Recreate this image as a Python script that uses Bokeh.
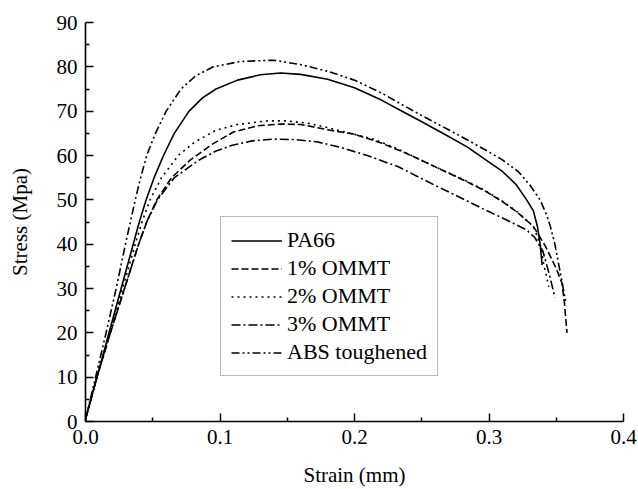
from bokeh.plotting import figure
from bokeh.models import Range1d, Legend, LegendItem, NumeralTickFormatter, FixedTicker
from bokeh.embed import file_html
from bokeh.resources import INLINE

FONT = "Liberation Serif"

# ---- data ----
pa66_strain = [0, 0.0085, 0.0175, 0.0265, 0.031, 0.0355, 0.040, 0.0451, 0.051, 0.058, 0.066, 0.077, 0.087, 0.097, 0.113, 0.130, 0.145, 0.16, 0.18, 0.2, 0.22, 0.234, 0.25, 0.27, 0.284, 0.3, 0.31, 0.32, 0.328, 0.333, 0.336, 0.338, 0.3395]
pa66_stress = [0.5, 10, 20, 30, 35, 40, 45, 50, 55, 60, 65, 70, 73, 75, 77, 78.2, 78.6, 78.3, 77.2, 75.3, 72.5, 70.2, 67.6, 64.3, 61.9, 58.5, 56.4, 53.5, 50.0, 47.5, 44.0, 40.0, 35.3]

ommt1_strain = [0, 0.0085, 0.0185, 0.029, 0.0395, 0.0455, 0.053, 0.064, 0.078, 0.094, 0.11, 0.128, 0.145, 0.16, 0.182, 0.2, 0.22, 0.24, 0.259, 0.28, 0.296, 0.31, 0.321, 0.333, 0.338, 0.342, 0.3457, 0.35, 0.3543, 0.356, 0.358]
ommt1_stress = [0.5, 10, 20, 30, 40, 45, 50, 55, 59, 62.5, 65.3, 66.7, 67.1, 67.0, 65.7, 64.8, 62.8, 60.3, 57.6, 54.6, 52.2, 49.6, 47.2, 44.0, 41.5, 39.5, 37.2, 34.5, 31.2, 27.0, 20.0]

ommt2_strain = [0, 0.0085, 0.018, 0.0275, 0.037, 0.042, 0.048, 0.0565, 0.069, 0.081, 0.097, 0.113, 0.135, 0.15, 0.165, 0.18, 0.197, 0.215, 0.232, 0.259, 0.28, 0.296, 0.31, 0.321, 0.333, 0.338, 0.341, 0.3445]
ommt2_stress = [0.5, 10, 20, 30, 40, 45, 50, 55, 60, 63, 65.7, 67, 67.8, 67.8, 67.3, 66.3, 65.0, 63.6, 61.5, 57.6, 54.7, 52.3, 49.7, 47.3, 44.0, 40.0, 35.0, 30.4]

ommt3_strain = [0, 0.0085, 0.0185, 0.029, 0.0395, 0.0455, 0.0535, 0.066, 0.0845, 0.097, 0.109, 0.124, 0.14, 0.155, 0.172, 0.19, 0.2094, 0.233, 0.259, 0.28, 0.296, 0.31, 0.32, 0.328, 0.334, 0.34, 0.345, 0.349]
ommt3_stress = [0.5, 10, 20, 30, 40, 45, 50, 55, 59, 61, 62.3, 63.3, 63.7, 63.6, 63.1, 61.8, 60.0, 57.4, 53.4, 50.3, 47.9, 45.9, 44.4, 43.2, 41.5, 38.5, 33.0, 28.0]

abs_strain = [0, 0.0075, 0.0153, 0.0228, 0.0297, 0.037, 0.041, 0.0455, 0.052, 0.060, 0.071, 0.082, 0.095, 0.115, 0.14, 0.16, 0.18, 0.2, 0.22, 0.234, 0.25, 0.27, 0.284, 0.3, 0.31, 0.322, 0.33, 0.338, 0.343, 0.3457, 0.349, 0.3507, 0.354, 0.357]
abs_stress = [0.5, 10, 20, 30, 40, 50, 55, 60, 65, 70, 75, 78, 80, 81.2, 81.5, 80.5, 79, 77, 74.1, 71.7, 69, 65.8, 63.5, 60.8, 59, 56.3, 53.5, 50, 46.5, 43.9, 40, 37.2, 32, 27]

labels = ["PA66", "1% OMMT", "2% OMMT", "3% OMMT", "ABS toughened"]
dashes = ["solid", "7 3", "2 4", "9 3 2 3", "8 3 2 3 2 3"]

x_ticks = [0.0, 0.1, 0.2, 0.3, 0.4]
x_minor = [0.05, 0.15, 0.25, 0.35]
y_ticks = [0, 10, 20, 30, 40, 50, 60, 70, 80, 90]
y_minor = [5, 15, 25, 35, 45, 55, 65, 75, 85]

p = figure(width=638, height=489, output_backend="svg", toolbar_location=None,
           x_range=Range1d(0, 0.4), y_range=Range1d(0, 90),
           min_border_left=85, min_border_right=15, min_border_top=22, min_border_bottom=67)
p.outline_line_color = None
p.grid.visible = False

series = [(pa66_strain, pa66_stress), (ommt1_strain, ommt1_stress), (ommt2_strain, ommt2_stress),
          (ommt3_strain, ommt3_stress), (abs_strain, abs_stress)]
items = []
for (xs, ys), lab, d in zip(series, labels, dashes):
    r = p.line(xs, ys, line_color="black", line_width=1.6, line_dash=d, line_join="round")
    items.append(LegendItem(label=lab, renderers=[r]))

for ax in (p.xaxis[0], p.yaxis[0]):
    ax.axis_line_width = 1.6
    ax.axis_line_color = "black"
    ax.major_tick_in = 8
    ax.major_tick_out = 0
    ax.minor_tick_in = 4
    ax.minor_tick_out = 0
    ax.major_tick_line_width = 1.5
    ax.minor_tick_line_width = 1.5
    ax.major_label_text_font = FONT
    ax.major_label_text_font_size = "21px"
    ax.major_label_text_color = "black"
    ax.axis_label_text_font = FONT
    ax.axis_label_text_font_size = "21px"
    ax.axis_label_text_font_style = "normal"
    ax.axis_label_text_color = "black"
    ax.major_label_standoff = 8

p.xaxis.ticker = FixedTicker(ticks=x_ticks, minor_ticks=x_minor)
p.yaxis.ticker = FixedTicker(ticks=y_ticks, minor_ticks=y_minor)
p.xaxis.formatter = NumeralTickFormatter(format="0.0")
p.xaxis.axis_label = "Strain (mm)"
p.yaxis.axis_label = "Stress (Mpa)"
p.xaxis.axis_label_standoff = 16
p.yaxis.axis_label_standoff = 22

legend = Legend(items=items, location=(135, 45))
legend.label_text_font = FONT
legend.label_text_font_size = "22px"
legend.label_text_color = "black"
legend.glyph_width = 51
legend.glyph_height = 25
legend.label_height = 25
legend.label_standoff = 5
legend.spacing = 2
legend.padding = 10
legend.margin = 0
legend.border_line_color = "#777777"
legend.border_line_width = 1.5
legend.background_fill_color = "white"
legend.background_fill_alpha = 1
p.add_layout(legend, "center")

open("out.html", "w").write(file_html(p, INLINE))
